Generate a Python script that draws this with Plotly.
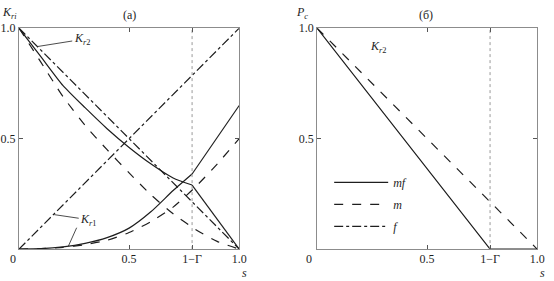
import plotly.graph_objects as go

# ---- data ----
S_CRIT = 0.786  # position of 1-Γ

# panel (a): relative permeabilities
s_grid = [0, 0.1, 0.2, 0.3, 0.4, 0.5, 0.6, 0.7, 0.8, 0.9, 1.0]
kr1_m = [0, 0.002, 0.008, 0.02, 0.04, 0.075, 0.125, 0.19, 0.28, 0.385, 0.5]
kr2_m = [1, 0.845, 0.69, 0.56, 0.45, 0.345, 0.245, 0.16, 0.09, 0.035, 0]

s_mf = [0, 0.1, 0.2, 0.3, 0.4, 0.5, 0.6, 0.7, S_CRIT, 1.0]
kr1_mf = [0, 0.002, 0.01, 0.026, 0.052, 0.095, 0.17, 0.265, 0.34, 0.65]
kr2_mf = [1, 0.87, 0.74, 0.64, 0.545, 0.46, 0.385, 0.322, 0.29, 0]

s_f = [0, 1.0]
kr1_f = [0, 1.0]
kr2_f = [1.0, 0]

# panel (b): capillary pressure
s_pc_m = [0, 1.0]
pc_m = [1.0, 0]
s_pc_mf = [0, S_CRIT, 1.0]
pc_mf = [1.0, 0, 0]

x_tick_vals = [0.5, S_CRIT, 1.0]
x_tick_text = ["0.5", "1\u2212\u0393", "1.0"]
y_tick_vals = [0.5, 1.0]
y_tick_text = ["0.5", "1.0"]

FONT = "Liberation Serif, Times New Roman, Times, serif"
INK = "#1e1e1e"
LW = 1.2

fig = go.Figure()

def line(x, y, dash, xa, ya, name=None, show=False, group=None, shape="spline"):
    fig.add_trace(go.Scatter(
        x=x, y=y, mode="lines", xaxis=xa, yaxis=ya,
        line=dict(color=INK, width=LW, dash=dash, shape=shape, smoothing=0.6),
        name=name, showlegend=show, legendgroup=group, hoverinfo="skip"))

# panel (a)
line(s_mf[:-1], kr2_mf[:-1], "solid", "x", "y", "<i>mf</i>", True, "mf")
line(s_mf[-2:], kr2_mf[-2:], "solid", "x", "y", shape="linear")
line(s_mf[:-1], kr1_mf[:-1], "solid", "x", "y")
line(s_mf[-2:], kr1_mf[-2:], "solid", "x", "y", shape="linear")
line(s_grid, kr2_m, "dash", "x", "y", "<i>m</i>", True, "m")
line(s_grid, kr1_m, "dash", "x", "y")
line(s_f, kr2_f, "dashdot", "x", "y", "<i>f</i>", True, "f", shape="linear")
line(s_f, kr1_f, "dashdot", "x", "y", shape="linear")

# panel (b)
line(s_pc_mf, pc_mf, "solid", "x2", "y2", shape="linear")
line(s_pc_m, pc_m, "dash", "x2", "y2", shape="linear")

# dotted 1-Γ markers
for xa, ya in (("x", "y"), ("x2", "y2")):
    fig.add_trace(go.Scatter(
        x=[S_CRIT, S_CRIT], y=[0, 1], mode="lines", xaxis=xa, yaxis=ya,
        line=dict(color="#9a9a9a", width=1, dash="dot"),
        showlegend=False, hoverinfo="skip"))

axis_common = dict(
    range=[0, 1], showgrid=False, zeroline=False, showline=True,
    linecolor="#8c8c8c", linewidth=1, mirror="ticks", ticks="inside",
    ticklen=4, tickcolor="#555", tickwidth=1,
    tickfont=dict(family=FONT, size=12, color=INK),
)

fig.update_layout(
    width=554, height=281,
    margin=dict(l=0, r=0, t=0, b=0),
    paper_bgcolor="white", plot_bgcolor="white",
    font=dict(family=FONT, size=12, color=INK),
    xaxis=dict(domain=[0.0348, 0.4381], tickvals=x_tick_vals, ticktext=x_tick_text,
               ticklabelstandoff=-2, **axis_common),
    yaxis=dict(domain=[0.1164, 0.9228], tickvals=y_tick_vals, ticktext=y_tick_text, **axis_common),
    xaxis2=dict(domain=[0.5807, 0.9838], anchor="y2", tickvals=x_tick_vals, ticktext=x_tick_text,
                ticklabelstandoff=-2, **axis_common),
    yaxis2=dict(domain=[0.1164, 0.9228], anchor="x2", tickvals=y_tick_vals, ticktext=y_tick_text, **axis_common),
    legend=dict(x=334 / 554, y=(281 - 165) / 281, xanchor="left", yanchor="top",
                bgcolor="rgba(0,0,0,0)", font=dict(family=FONT, size=12, color=INK),
                itemwidth=54, traceorder="grouped", tracegroupgap=3),
    showlegend=True,
)

def px(xp, yp):
    return xp / 554, (281 - yp) / 281

ann = []
def text(xp, yp, t, size=12, xanchor="center"):
    x, y = px(xp, yp)
    ann.append(dict(x=x, y=y, xref="paper", yref="paper", text=t, showarrow=False,
                    xanchor=xanchor, yanchor="middle", font=dict(family=FONT, size=size, color=INK)))

text(131.5, 8, "(a)", 12)
text(432, 8, "(\u0431)", 12)
text(10, 6, "<i>K</i><sub><i>ri</i></sub>", 12)
text(306, 6, "<i>P</i><sub><i>c</i></sub>", 12)
text(248, 273, "<i>s</i>", 12)
text(550, 273, "<i>s</i>", 12)
text(13, 258.5, "0", 12)
text(314, 258.5, "0", 12)
text(384, 41, "<i>K</i><sub><i>r</i>2</sub>", 12)

# pointer labels in panel (a)
ann.append(dict(x=0.085, y=0.917, xref="x", yref="y", text="<i>K</i><sub><i>r</i>2</sub>",
                showarrow=True, arrowhead=0, arrowwidth=0.8, arrowcolor=INK,
                ax=44, ay=-7, font=dict(family=FONT, size=12, color=INK)))
ann.append(dict(x=0.16, y=0.156, xref="x", yref="y", text="<i>K</i><sub><i>r</i>1</sub>",
                showarrow=True, arrowhead=0, arrowwidth=0.8, arrowcolor=INK,
                ax=34, ay=5, font=dict(family=FONT, size=12, color=INK)))
ann.append(dict(x=0.224, y=0.013, xref="x", yref="y", text="",
                showarrow=True, arrowhead=0, arrowwidth=0.8, arrowcolor=INK,
                ax=9, ay=-20))

fig.update_layout(annotations=ann)
fig.write_html("out.html")
